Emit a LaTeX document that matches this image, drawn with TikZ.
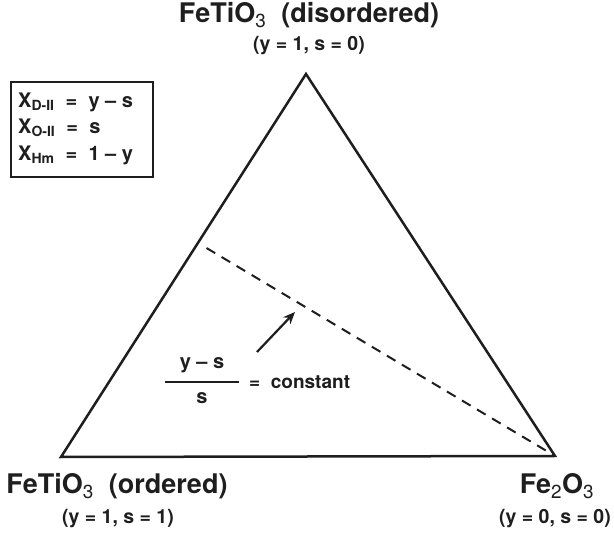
\documentclass[tikz,border=0pt]{standalone}
\usepackage{fontspec}
\setmainfont{TeX Gyre Heros}
\usetikzlibrary{arrows.meta, positioning, calc}
\definecolor{inkgray}{HTML}{1E1E1E}
\newcommand{\lsub}[1]{\textsubscript{\mdseries #1}}

\begin{document}
\begin{tikzpicture}[x=1pt, y=-1pt, inkgray,
  endlabel/.style={font=\bfseries\fontsize{27}{30}\selectfont, inner sep=0pt},
  yslabel/.style={font=\bfseries\fontsize{19.5}{22}\selectfont, inner sep=0pt},
  eqline/.style={font=\bfseries\fontsize{20}{22}\selectfont, inner sep=0pt, anchor=west},
  side/.style={line width=2.5pt, line join=miter},
]
  \useasboundingbox (0,0) rectangle (614,537);

  % corners of the triangle
  \coordinate (apex) at (306,74);
  \coordinate (lft) at (61,457);
  \coordinate (rgt) at (555,456);
  \draw[side] (apex) -- (lft) -- (rgt) -- cycle;

  % end members
  \node[endlabel] (top) at (309,15) {FeTiO\lsub{3}\ \ (disordered)};
  \node[yslabel] (topys) at (309,46) {(y = 1, s = 0)};
  \node[endlabel] (ord) at (117,486) {FeTiO\lsub{3}\ \ (ordered)};
  \node[yslabel] (ordys) at (118,519) {(y = 1, s = 1)};
  \node[endlabel] (hem) at (557,486) {Fe\lsub{2}O\lsub{3}};
  \node[yslabel] (hemys) at (555,519) {(y = 0, s = 0)};

  % site fractions
  \node[draw, line width=1.5pt, minimum width=142pt, minimum height=95pt,
        inner sep=0pt] (key) at (82,129.5) {};
  \node[eqline] (xd) at (18,102) {X\lsub{\bfseries D-II}\ \ =\ \ y -- s};
  \node[eqline] (xo) at (18,128) {X\lsub{\bfseries O-II}\ \ =\ \ s};
  \node[eqline] (xh) at (18,155) {X\lsub{\bfseries Hm}\ \ =\ \ 1 -- y};

  % line of constant (y-s)/s
  \coordinate (dstart) at ($(lft)!0.559!(apex)$);
  \draw[line width=2pt, dash pattern=on 10pt off 7.5pt, shorten <=10pt]
    (dstart) -- (rgt);
  \coordinate (arrtail) at (257,352);
  \coordinate (arrhead) at (295,312);
  \draw[line width=2.2pt, -{Stealth[length=12pt, width=10pt]}] (arrtail) -- (arrhead);

  \node[eqline, anchor=center] (num) at (202,365) {y -- s};
  \node[eqline, anchor=center] (den) at (202,398) {s};
  \coordinate (barl) at (165,382);
  \coordinate (barr) at (239,382);
  \draw[line width=1.8pt] (barl) -- (barr);
  \node[eqline, font=\bfseries\fontsize{19}{22}\selectfont] (const) at (249,382) {=\ \ constant};
\end{tikzpicture}
\end{document}
